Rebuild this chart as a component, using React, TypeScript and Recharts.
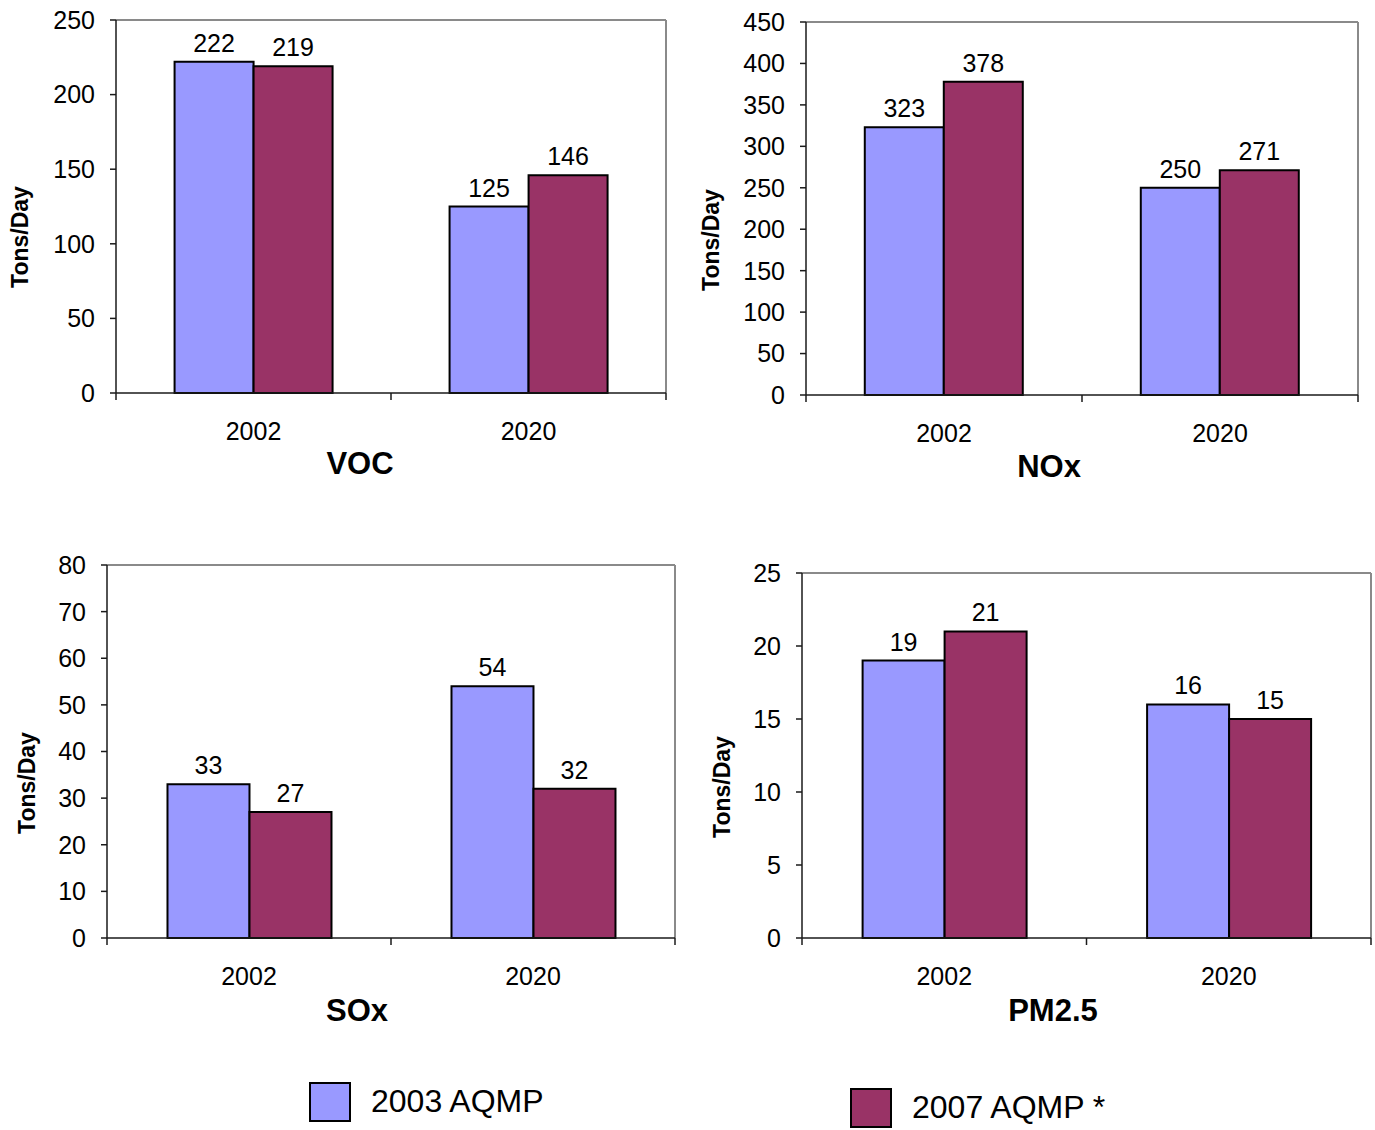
import React from 'react';
import { BarChart, Bar, XAxis, YAxis, LabelList } from 'recharts';

const categories = ['2002', '2020'];
const seriesNames = ['2003 AQMP', '2007 AQMP *'];

const vocA = [222, 125];
const vocB = [219, 146];
const noxA = [323, 250];
const noxB = [378, 271];
const soxA = [33, 54];
const soxB = [27, 32];
const pmA = [19, 16];
const pmB = [21, 15];

const vocTicks = [0, 50, 100, 150, 200, 250];
const noxTicks = [0, 50, 100, 150, 200, 250, 300, 350, 400, 450];
const soxTicks = [0, 10, 20, 30, 40, 50, 60, 70, 80];
const pmTicks = [0, 5, 10, 15, 20, 25];

const FONT = '"Liberation Sans", Arial, Helvetica, sans-serif';
const BLUE = '#9999FF';
const MAROON = '#993366';
const AXIS = '#1a1a1a';
const BORDER = '#8a8a8a';

const build = (a: number[], b: number[]) =>
  categories.map((c, i) => ({ cat: c, a: a[i], b: b[i] }));

const XTick = (props: any) => {
  const { x, payload, index, halfBand, count, axisY } = props;
  return (
    <g>
      <line x1={x - halfBand} x2={x - halfBand} y1={axisY} y2={axisY + 7} stroke={AXIS} strokeWidth={1.5} />
      {index === count - 1 && (
        <line x1={x + halfBand} x2={x + halfBand} y1={axisY} y2={axisY + 7} stroke={AXIS} strokeWidth={1.5} />
      )}
      <text x={x} y={axisY + 47} textAnchor="middle" fontSize={25} fontFamily={FONT} fill="#000">
        {payload.value}
      </text>
    </g>
  );
};

type PanelProps = {
  left: number; top: number; width: number; height: number;
  plotLeft: number; plotRight: number; plotTop: number; plotBottom: number;
  a: number[]; b: number[]; ticks: number[];
  title: string; titleX: number; titleY: number;
  ylX: number; ylY: number;
};

const Panel = (p: PanelProps) => {
  const yAxisW = 100;
  const xAxisH = 60;
  const margin = {
    top: p.plotTop - p.top - 1,
    left: p.plotLeft - p.left - yAxisW,
    right: p.left + p.width - p.plotRight - 1,
    bottom: p.top + p.height - p.plotBottom - xAxisH,
  };
  const data = build(p.a, p.b);
  const halfBand = (p.plotRight - p.plotLeft) / (2 * categories.length);
  const domain = [p.ticks[0], p.ticks[p.ticks.length - 1]];
  return (
    <>
      <div style={{ position: 'absolute', left: p.left, top: p.top }}>
        <BarChart width={p.width} height={p.height} data={data} margin={margin} barCategoryGap="21.3%" barGap={0}>
          <XAxis xAxisId="t" orientation="top" dataKey="cat" height={1} tick={false} tickLine={false}
            axisLine={{ stroke: BORDER, strokeWidth: 2 }} />
          <YAxis yAxisId="r" orientation="right" width={1} tick={false} tickLine={false} domain={domain}
            ticks={p.ticks} axisLine={{ stroke: BORDER, strokeWidth: 2 }} />
          <XAxis dataKey="cat" height={xAxisH} tickLine={false} axisLine={{ stroke: AXIS, strokeWidth: 1.5 }}
            interval={0}
            tick={<XTick halfBand={halfBand} count={categories.length} axisY={p.plotBottom - p.top} />} />
          <YAxis width={yAxisW} domain={domain} ticks={p.ticks} interval={0} tickSize={6} tickMargin={15}
            axisLine={{ stroke: AXIS, strokeWidth: 1.5 }} tickLine={{ stroke: AXIS, strokeWidth: 1.5 }}
            tick={{ fontSize: 25, fill: '#000', fontFamily: FONT }} />
          <Bar dataKey="a" name={seriesNames[0]} fill={BLUE} stroke="#000" strokeWidth={2} isAnimationActive={false}>
            <LabelList dataKey="a" position="top" offset={10} fontSize={25} fill="#000" fontFamily={FONT} />
          </Bar>
          <Bar dataKey="b" name={seriesNames[1]} fill={MAROON} stroke="#000" strokeWidth={2} isAnimationActive={false}>
            <LabelList dataKey="b" position="top" offset={10} fontSize={25} fill="#000" fontFamily={FONT} />
          </Bar>
        </BarChart>
      </div>
      <div style={{
        position: 'absolute', left: p.titleX, top: p.titleY, transform: 'translate(-50%, -50%)',
        fontFamily: FONT, fontWeight: 'bold', fontSize: 31, whiteSpace: 'nowrap', lineHeight: 1,
      }}>{p.title}</div>
      <div style={{
        position: 'absolute', left: p.ylX, top: p.ylY, transform: 'translate(-50%, -50%) rotate(-90deg)',
        fontFamily: FONT, fontWeight: 'bold', fontSize: 23, whiteSpace: 'nowrap', lineHeight: 1,
      }}>Tons/Day</div>
    </>
  );
};

const LegendItem = ({ x, y, color, label }: { x: number; y: number; color: string; label: string }) => (
  <>
    <div style={{
      position: 'absolute', left: x, top: y, width: 38, height: 36, background: color,
      border: '2px solid #000',
    }} />
    <div style={{
      position: 'absolute', left: x + 62, top: y + 19, transform: 'translateY(-50%)',
      fontFamily: FONT, fontSize: 32, whiteSpace: 'nowrap', lineHeight: 1,
    }}>{label}</div>
  </>
);

export default function App() {
  return (
    <div style={{ position: 'absolute', left: 0, top: 0, width: 1375, height: 1130, background: '#fff', overflow: 'hidden' }}>
      <Panel left={0} top={0} width={690} height={480}
        plotLeft={116} plotRight={666} plotTop={20} plotBottom={393}
        a={vocA} b={vocB} ticks={vocTicks} title="VOC" titleX={360} titleY={463} ylX={20} ylY={237} />
      <Panel left={690} top={0} width={685} height={480}
        plotLeft={806} plotRight={1358} plotTop={22} plotBottom={395}
        a={noxA} b={noxB} ticks={noxTicks} title="NOx" titleX={1049} titleY={466} ylX={711} ylY={240} />
      <Panel left={0} top={540} width={690} height={480}
        plotLeft={107} plotRight={675} plotTop={565} plotBottom={938}
        a={soxA} b={soxB} ticks={soxTicks} title="SOx" titleX={357} titleY={1010} ylX={27} ylY={783} />
      <Panel left={690} top={540} width={685} height={480}
        plotLeft={802} plotRight={1371} plotTop={573} plotBottom={938}
        a={pmA} b={pmB} ticks={pmTicks} title="PM2.5" titleX={1053} titleY={1010} ylX={722} ylY={787} />
      <LegendItem x={309} y={1082} color={BLUE} label={seriesNames[0]} />
      <LegendItem x={850} y={1088} color={MAROON} label={seriesNames[1]} />
    </div>
  );
}
